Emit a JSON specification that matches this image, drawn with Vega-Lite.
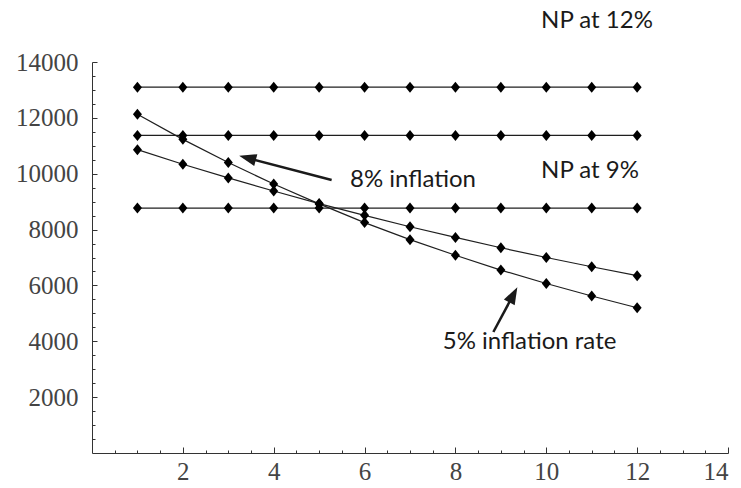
{
  "$schema": "https://vega.github.io/schema/vega-lite/v6.json",
  "width": 636,
  "height": 391,
  "autosize": {"type": "none"},
  "padding": {"left": 92, "top": 62, "right": 13, "bottom": 35},
  "background": "white",
  "config": {"view": {"stroke": null}},
  "datasets": {
    "series": [
      {"s": "A", "x": 1, "y": 13100}, {"s": "A", "x": 2, "y": 13100}, {"s": "A", "x": 3, "y": 13100}, {"s": "A", "x": 4, "y": 13100},
      {"s": "A", "x": 5, "y": 13100}, {"s": "A", "x": 6, "y": 13100}, {"s": "A", "x": 7, "y": 13100}, {"s": "A", "x": 8, "y": 13100},
      {"s": "A", "x": 9, "y": 13100}, {"s": "A", "x": 10, "y": 13100}, {"s": "A", "x": 11, "y": 13100}, {"s": "A", "x": 12, "y": 13100},
      {"s": "B", "x": 1, "y": 11370}, {"s": "B", "x": 2, "y": 11370}, {"s": "B", "x": 3, "y": 11370}, {"s": "B", "x": 4, "y": 11370},
      {"s": "B", "x": 5, "y": 11370}, {"s": "B", "x": 6, "y": 11370}, {"s": "B", "x": 7, "y": 11370}, {"s": "B", "x": 8, "y": 11370},
      {"s": "B", "x": 9, "y": 11370}, {"s": "B", "x": 10, "y": 11370}, {"s": "B", "x": 11, "y": 11370}, {"s": "B", "x": 12, "y": 11370},
      {"s": "C", "x": 1, "y": 8770}, {"s": "C", "x": 2, "y": 8770}, {"s": "C", "x": 3, "y": 8770}, {"s": "C", "x": 4, "y": 8770},
      {"s": "C", "x": 5, "y": 8770}, {"s": "C", "x": 6, "y": 8770}, {"s": "C", "x": 7, "y": 8770}, {"s": "C", "x": 8, "y": 8770},
      {"s": "C", "x": 9, "y": 8770}, {"s": "C", "x": 10, "y": 8770}, {"s": "C", "x": 11, "y": 8770}, {"s": "C", "x": 12, "y": 8770},
      {"s": "D", "x": 1, "y": 12130}, {"s": "D", "x": 2, "y": 11230}, {"s": "D", "x": 3, "y": 10400}, {"s": "D", "x": 4, "y": 9630},
      {"s": "D", "x": 5, "y": 8920}, {"s": "D", "x": 6, "y": 8250}, {"s": "D", "x": 7, "y": 7640}, {"s": "D", "x": 8, "y": 7080},
      {"s": "D", "x": 9, "y": 6550}, {"s": "D", "x": 10, "y": 6070}, {"s": "D", "x": 11, "y": 5620}, {"s": "D", "x": 12, "y": 5200},
      {"s": "E", "x": 1, "y": 10860}, {"s": "E", "x": 2, "y": 10340}, {"s": "E", "x": 3, "y": 9850}, {"s": "E", "x": 4, "y": 9380},
      {"s": "E", "x": 5, "y": 8930}, {"s": "E", "x": 6, "y": 8510}, {"s": "E", "x": 7, "y": 8100}, {"s": "E", "x": 8, "y": 7720},
      {"s": "E", "x": 9, "y": 7350}, {"s": "E", "x": 10, "y": 7000}, {"s": "E", "x": 11, "y": 6670}, {"s": "E", "x": 12, "y": 6350}
    ],
    "arrows": [
      {"x": 5.275, "y": 9774, "x2": 3.495, "y2": 10533},
      {"x": 8.835, "y": 4332, "x2": 9.24, "y2": 5560}
    ],
    "heads": [
      {"x": 3.24, "y": 10642, "angle": 284.7},
      {"x": 9.363, "y": 5939, "angle": 28.05}
    ],
    "labels": [
      {"x": 9.885, "y": 15464, "t": "NP at 12%"},
      {"x": 9.885, "y": 10107, "t": "NP at 9%"},
      {"x": 5.68, "y": 9786, "t": "8% inflation"},
      {"x": 7.72, "y": 3975, "t": "5% inflation rate"}
    ]
  },
  "layer": [
    {
      "data": {"name": "series"},
      "mark": {"type": "line", "color": "#1f1f1f", "strokeWidth": 1.2},
      "encoding": {
        "x": {"field": "x", "type": "quantitative", "scale": {"domain": [0, 14], "nice": false, "zero": false},
          "axis": {"orient": "bottom", "values": [2, 4, 6, 8, 10, 12, 14], "tickSize": -6, "tickColor": "#333", "domainColor": "#333", "grid": false, "title": null,
            "labelFont": "Liberation Serif", "labelFontSize": 25, "labelColor": "#444", "labelPadding": 12, "format": "d"}},
        "y": {"field": "y", "type": "quantitative", "scale": {"domain": [0, 14000], "nice": false},
          "axis": {"orient": "left", "values": [2000, 4000, 6000, 8000, 10000, 12000, 14000], "tickSize": -5, "tickColor": "#333", "domainColor": "#333", "grid": false, "title": null,
            "labelFont": "Liberation Serif", "labelFontSize": 25, "labelColor": "#444", "labelPadding": 19, "format": "d"}},
        "detail": {"field": "s"}
      }
    },
    {
      "data": {"name": "series"},
      "mark": {"type": "point", "shape": "M0,-1.1L0.9,0L0,1.1L-0.9,0Z", "filled": true, "size": 100, "color": "#000", "opacity": 1},
      "encoding": {
        "x": {"field": "x", "type": "quantitative",
          "axis": {"orient": "bottom", "values": [0.5, 1, 1.5, 2.5, 3, 3.5, 4.5, 5, 5.5, 6.5, 7, 7.5, 8.5, 9, 9.5, 10.5, 11, 11.5, 12.5, 13, 13.5], "tickSize": -3, "tickColor": "#333", "labels": false, "domain": false, "grid": false, "title": null}},
        "y": {"field": "y", "type": "quantitative",
          "axis": {"orient": "left", "values": [500, 1000, 1500, 2500, 3000, 3500, 4500, 5000, 5500, 6500, 7000, 7500, 8500, 9000, 9500, 10500, 11000, 11500, 12500, 13000, 13500], "tickSize": -3, "tickColor": "#333", "labels": false, "domain": false, "grid": false, "title": null}}
      }
    },
    {
      "data": {"name": "arrows"},
      "mark": {"type": "rule", "color": "#1a1a1a", "strokeWidth": 2.5},
      "encoding": {
        "x": {"field": "x", "type": "quantitative", "axis": null},
        "y": {"field": "y", "type": "quantitative", "axis": null},
        "x2": {"field": "x2"},
        "y2": {"field": "y2"}
      }
    },
    {
      "data": {"name": "heads"},
      "mark": {"type": "point", "shape": "M0,0L0.5,1.4L-0.5,1.4Z", "filled": true, "size": 600, "color": "#1a1a1a", "opacity": 1},
      "encoding": {
        "x": {"field": "x", "type": "quantitative", "axis": null},
        "y": {"field": "y", "type": "quantitative", "axis": null},
        "angle": {"field": "angle", "type": "quantitative", "scale": null}
      }
    },
    {
      "data": {"name": "labels"},
      "mark": {"type": "text", "align": "left", "baseline": "middle", "font": "Lato", "fontSize": 24, "color": "#1a1a1a"},
      "encoding": {
        "x": {"field": "x", "type": "quantitative", "axis": null},
        "y": {"field": "y", "type": "quantitative", "axis": null},
        "text": {"field": "t"}
      }
    }
  ],
  "resolve": {"axis": {"x": "independent", "y": "independent"}}
}
